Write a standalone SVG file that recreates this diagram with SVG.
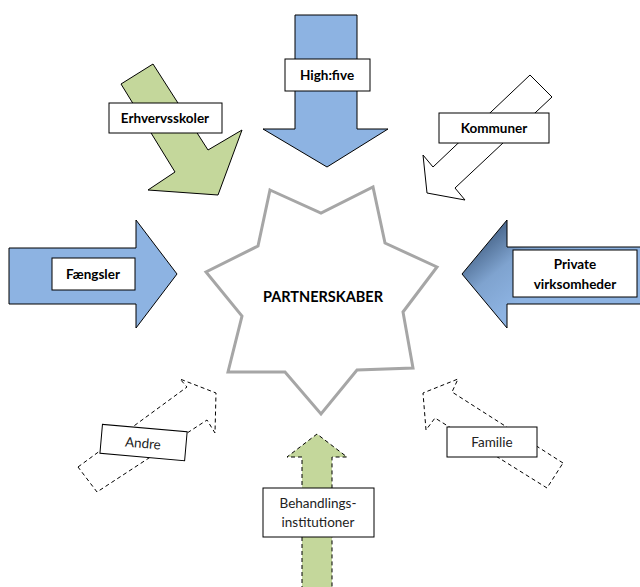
<svg xmlns="http://www.w3.org/2000/svg" width="640" height="587" viewBox="0 0 640 587">
<defs>
<linearGradient id="gPriv" gradientUnits="userSpaceOnUse" x1="462" y1="230" x2="520" y2="300">
<stop offset="0" stop-color="#2b4566"/>
<stop offset="0.6" stop-color="#7fa3cf"/>
<stop offset="1" stop-color="#8db3e2"/>
</linearGradient>
</defs>
<style>
.blue{fill:#8db3e2;stroke:#000;stroke-width:1}
.green{fill:#c4d79b;stroke:#000;stroke-width:1}
.white{fill:#fff;stroke:#000;stroke-width:1}
.dash{fill:#fff;stroke:#000;stroke-width:1;stroke-dasharray:4 3}
.dashg{fill:#c4d79b;stroke:#000;stroke-width:1;stroke-dasharray:4 3}
.box{fill:#fff;stroke:#000;stroke-width:1}
.b{font-family:Lato,"Liberation Sans",sans-serif;font-weight:bold;font-size:13.5px;fill:#000;text-anchor:middle}
.n{font-family:Lato,"Liberation Sans",sans-serif;font-size:13.5px;fill:#222;text-anchor:middle}
</style>
<g id="star">
<polygon points="270,190 321,213 373,187 385,243 437,267 403,312 413,368 357,370 321,414 285,372 228,372 242,316 206,272 258,246" fill="#fff" stroke="#a6a6a6" stroke-width="3" stroke-linejoin="miter"/>
<text class="b" x="323" y="302" style="font-size:14.5px">PARTNERSKABER</text>
</g>
<g id="highfive">
<polygon class="blue" points="295,15 357,15 357,129 388,129 327,167 263,129 295,129"/>
<rect class="box" x="285" y="59" width="85" height="32"/>
<text class="b" x="327" y="80">High:five</text>
</g>
<g id="erhvervsskoler">
<polygon class="green" points="121,84 153,64 208,150 242,130 218,195 148,190 175,172"/>
<rect class="box" x="109" y="103" width="113" height="30"/>
<text class="b" x="165" y="123">Erhvervsskoler</text>
</g>
<g id="kommuner">
<polygon class="white" points="530,75 552,97 455,188 465,200 427,193 423,155 433,167"/>
<rect class="box" x="439" y="113" width="110" height="30"/>
<text class="b" x="494" y="133">Kommuner</text>
</g>
<g id="faengsler">
<polygon class="blue" points="9,248 136,248 136,220 177,274 136,328 136,304 9,304"/>
<rect class="box" x="52" y="258" width="83" height="32"/>
<text class="b" x="93" y="279">Fængsler</text>
</g>
<g id="private">
<polygon points="641,247 507,247 507,220 462,274 507,328 507,304 641,304" fill="url(#gPriv)" stroke="#000" stroke-width="1"/>
<rect class="box" x="513" y="250" width="124" height="47"/>
<text class="b" x="575" y="269">Private</text>
<text class="b" x="575" y="289">virksomheder</text>
</g>
<g id="andre">
<polygon class="dash" points="78,467 187,387 180,379 216,393 215,433 207,420 97,492"/>
<rect class="box" x="101" y="428" width="85" height="29" transform="rotate(5 143 443)"/>
<text class="n" x="143" y="448" transform="rotate(5 143 443)">Andre</text>
</g>
<g id="familie">
<polygon class="dash" points="563,463 452,392 458,379 423,393 426,430 435,418 547,488"/>
<rect class="box" x="447" y="427" width="90" height="30"/>
<text class="n" x="492" y="447">Familie</text>
</g>
<g id="behandling">
<polygon class="dashg" points="302,590 302,457 287,457 317,434 347,457 332,457 332,590"/>
<rect class="box" x="263" y="488" width="111" height="49"/>
<text class="n" x="318" y="508">Behandlings-</text>
<text class="n" x="318" y="527">institutioner</text>
</g>
</svg>
